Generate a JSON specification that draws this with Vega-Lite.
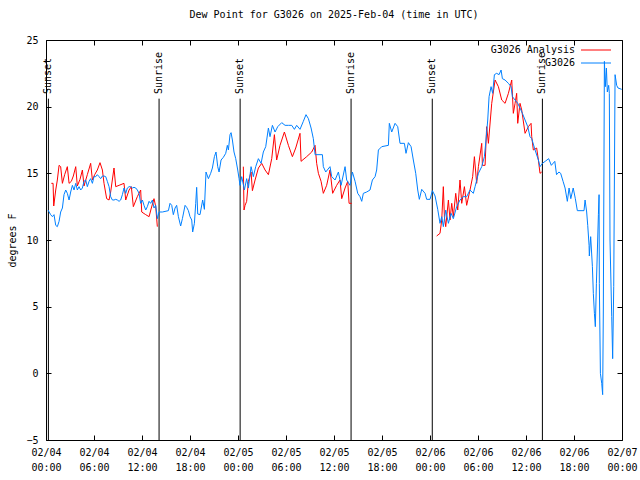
{
  "$schema": "https://vega.github.io/schema/vega-lite/v6.json",
  "width": 576,
  "height": 400,
  "autosize": {"type": "none"},
  "padding": {"left": 46, "top": 40, "right": 18, "bottom": 40},
  "background": "white",
  "title": {"text": "Dew Point for G3026 on 2025-Feb-04 (time in UTC)", "font": "DejaVu Sans Mono", "fontSize": 10, "fontWeight": "normal", "color": "black", "offset": 15},
  "config": {
    "view": {"stroke": "black", "strokeWidth": 1},
    "font": "DejaVu Sans Mono",
    "axis": {"labelFont": "DejaVu Sans Mono", "labelFontSize": 10, "labelColor": "black", "titleFont": "DejaVu Sans Mono", "titleFontSize": 10, "titleFontWeight": "normal", "titleColor": "black", "tickColor": "black", "domain": false, "grid": false}
  },
  "datasets": {
    "sun": [
      {"time": "2025-02-04T00:18Z", "event": "Sunset"},
      {"time": "2025-02-04T14:08Z", "event": "Sunrise"},
      {"time": "2025-02-05T00:16Z", "event": "Sunset"},
      {"time": "2025-02-05T14:08Z", "event": "Sunrise"},
      {"time": "2025-02-06T00:17Z", "event": "Sunset"},
      {"time": "2025-02-06T14:03Z", "event": "Sunrise"}
    ],
    "obs": [
      {"time": "2025-02-04T00:40Z", "series": "G3026 Analysis", "dewpoint": 14.25},
      {"time": "2025-02-04T00:53Z", "series": "G3026 Analysis", "dewpoint": 14.25},
      {"time": "2025-02-04T00:58Z", "series": "G3026 Analysis", "dewpoint": 12.55},
      {"time": "2025-02-04T01:13Z", "series": "G3026 Analysis", "dewpoint": 13.75},
      {"time": "2025-02-04T01:25Z", "series": "G3026 Analysis", "dewpoint": 14.5},
      {"time": "2025-02-04T01:38Z", "series": "G3026 Analysis", "dewpoint": 15.6},
      {"time": "2025-02-04T01:50Z", "series": "G3026 Analysis", "dewpoint": 15.5},
      {"time": "2025-02-04T02:03Z", "series": "G3026 Analysis", "dewpoint": 14.25},
      {"time": "2025-02-04T02:20Z", "series": "G3026 Analysis", "dewpoint": 14.9},
      {"time": "2025-02-04T02:40Z", "series": "G3026 Analysis", "dewpoint": 15.5},
      {"time": "2025-02-04T02:53Z", "series": "G3026 Analysis", "dewpoint": 14.25},
      {"time": "2025-02-04T03:10Z", "series": "G3026 Analysis", "dewpoint": 14.4},
      {"time": "2025-02-04T03:25Z", "series": "G3026 Analysis", "dewpoint": 14.8},
      {"time": "2025-02-04T03:43Z", "series": "G3026 Analysis", "dewpoint": 15.5},
      {"time": "2025-02-04T03:55Z", "series": "G3026 Analysis", "dewpoint": 14.05},
      {"time": "2025-02-04T04:15Z", "series": "G3026 Analysis", "dewpoint": 14.55},
      {"time": "2025-02-04T04:33Z", "series": "G3026 Analysis", "dewpoint": 15.25},
      {"time": "2025-02-04T04:45Z", "series": "G3026 Analysis", "dewpoint": 14.05},
      {"time": "2025-02-04T05:10Z", "series": "G3026 Analysis", "dewpoint": 14.9},
      {"time": "2025-02-04T05:35Z", "series": "G3026 Analysis", "dewpoint": 15.75},
      {"time": "2025-02-04T05:48Z", "series": "G3026 Analysis", "dewpoint": 14.5},
      {"time": "2025-02-04T06:05Z", "series": "G3026 Analysis", "dewpoint": 14.9},
      {"time": "2025-02-04T06:25Z", "series": "G3026 Analysis", "dewpoint": 15.25},
      {"time": "2025-02-04T06:45Z", "series": "G3026 Analysis", "dewpoint": 15.8},
      {"time": "2025-02-04T07:03Z", "series": "G3026 Analysis", "dewpoint": 15.25},
      {"time": "2025-02-04T07:15Z", "series": "G3026 Analysis", "dewpoint": 14.25},
      {"time": "2025-02-04T07:35Z", "series": "G3026 Analysis", "dewpoint": 13.1},
      {"time": "2025-02-04T07:53Z", "series": "G3026 Analysis", "dewpoint": 13.0},
      {"time": "2025-02-04T08:05Z", "series": "G3026 Analysis", "dewpoint": 13.6},
      {"time": "2025-02-04T08:30Z", "series": "G3026 Analysis", "dewpoint": 15.4},
      {"time": "2025-02-04T08:43Z", "series": "G3026 Analysis", "dewpoint": 14.0},
      {"time": "2025-02-04T09:08Z", "series": "G3026 Analysis", "dewpoint": 14.1},
      {"time": "2025-02-04T09:45Z", "series": "G3026 Analysis", "dewpoint": 14.25},
      {"time": "2025-02-04T09:58Z", "series": "G3026 Analysis", "dewpoint": 13.0},
      {"time": "2025-02-04T10:23Z", "series": "G3026 Analysis", "dewpoint": 13.75},
      {"time": "2025-02-04T10:40Z", "series": "G3026 Analysis", "dewpoint": 14.0},
      {"time": "2025-02-04T10:55Z", "series": "G3026 Analysis", "dewpoint": 12.5},
      {"time": "2025-02-04T11:25Z", "series": "G3026 Analysis", "dewpoint": 13.25},
      {"time": "2025-02-04T11:50Z", "series": "G3026 Analysis", "dewpoint": 13.75},
      {"time": "2025-02-04T11:58Z", "series": "G3026 Analysis", "dewpoint": 12.1},
      {"time": "2025-02-04T12:28Z", "series": "G3026 Analysis", "dewpoint": 11.9},
      {"time": "2025-02-04T12:53Z", "series": "G3026 Analysis", "dewpoint": 11.75},
      {"time": "2025-02-04T13:10Z", "series": "G3026 Analysis", "dewpoint": 12.4},
      {"time": "2025-02-04T13:30Z", "series": "G3026 Analysis", "dewpoint": 13.1},
      {"time": "2025-02-04T13:43Z", "series": "G3026 Analysis", "dewpoint": 12.5},
      {"time": "2025-02-04T13:55Z", "series": "G3026 Analysis", "dewpoint": 11.0},
      {"time": "2025-02-04T19:00Z", "series": "G3026 Analysis", "dewpoint": null},
      {"time": "2025-02-05T00:40Z", "series": "G3026 Analysis", "dewpoint": 15.5},
      {"time": "2025-02-05T00:45Z", "series": "G3026 Analysis", "dewpoint": 12.25},
      {"time": "2025-02-05T00:53Z", "series": "G3026 Analysis", "dewpoint": 12.6},
      {"time": "2025-02-05T01:05Z", "series": "G3026 Analysis", "dewpoint": 12.9},
      {"time": "2025-02-05T01:18Z", "series": "G3026 Analysis", "dewpoint": 14.4},
      {"time": "2025-02-05T01:38Z", "series": "G3026 Analysis", "dewpoint": 15.1},
      {"time": "2025-02-05T01:48Z", "series": "G3026 Analysis", "dewpoint": 13.7},
      {"time": "2025-02-05T02:08Z", "series": "G3026 Analysis", "dewpoint": 14.5},
      {"time": "2025-02-05T02:33Z", "series": "G3026 Analysis", "dewpoint": 15.4},
      {"time": "2025-02-05T02:58Z", "series": "G3026 Analysis", "dewpoint": 15.75},
      {"time": "2025-02-05T03:23Z", "series": "G3026 Analysis", "dewpoint": 15.25},
      {"time": "2025-02-05T03:48Z", "series": "G3026 Analysis", "dewpoint": 14.9},
      {"time": "2025-02-05T04:13Z", "series": "G3026 Analysis", "dewpoint": 16.1},
      {"time": "2025-02-05T04:33Z", "series": "G3026 Analysis", "dewpoint": 17.9},
      {"time": "2025-02-05T04:50Z", "series": "G3026 Analysis", "dewpoint": 16.0},
      {"time": "2025-02-05T05:15Z", "series": "G3026 Analysis", "dewpoint": 17.1},
      {"time": "2025-02-05T05:48Z", "series": "G3026 Analysis", "dewpoint": 18.1},
      {"time": "2025-02-05T06:18Z", "series": "G3026 Analysis", "dewpoint": 17.1},
      {"time": "2025-02-05T06:48Z", "series": "G3026 Analysis", "dewpoint": 16.25},
      {"time": "2025-02-05T07:13Z", "series": "G3026 Analysis", "dewpoint": 16.9},
      {"time": "2025-02-05T07:45Z", "series": "G3026 Analysis", "dewpoint": 18.0},
      {"time": "2025-02-05T07:53Z", "series": "G3026 Analysis", "dewpoint": 15.9},
      {"time": "2025-02-05T08:35Z", "series": "G3026 Analysis", "dewpoint": 16.25},
      {"time": "2025-02-05T09:13Z", "series": "G3026 Analysis", "dewpoint": 16.6},
      {"time": "2025-02-05T09:38Z", "series": "G3026 Analysis", "dewpoint": 17.1},
      {"time": "2025-02-05T09:50Z", "series": "G3026 Analysis", "dewpoint": 15.75},
      {"time": "2025-02-05T10:03Z", "series": "G3026 Analysis", "dewpoint": 15.0},
      {"time": "2025-02-05T10:23Z", "series": "G3026 Analysis", "dewpoint": 14.4},
      {"time": "2025-02-05T10:40Z", "series": "G3026 Analysis", "dewpoint": 13.5},
      {"time": "2025-02-05T11:05Z", "series": "G3026 Analysis", "dewpoint": 14.1},
      {"time": "2025-02-05T11:30Z", "series": "G3026 Analysis", "dewpoint": 15.25},
      {"time": "2025-02-05T11:50Z", "series": "G3026 Analysis", "dewpoint": 13.5},
      {"time": "2025-02-05T12:20Z", "series": "G3026 Analysis", "dewpoint": 14.1},
      {"time": "2025-02-05T12:45Z", "series": "G3026 Analysis", "dewpoint": 14.5},
      {"time": "2025-02-05T12:58Z", "series": "G3026 Analysis", "dewpoint": 13.1},
      {"time": "2025-02-05T13:23Z", "series": "G3026 Analysis", "dewpoint": 13.9},
      {"time": "2025-02-05T13:43Z", "series": "G3026 Analysis", "dewpoint": 14.4},
      {"time": "2025-02-05T13:53Z", "series": "G3026 Analysis", "dewpoint": 12.75},
      {"time": "2025-02-05T14:13Z", "series": "G3026 Analysis", "dewpoint": 12.75},
      {"time": "2025-02-05T19:00Z", "series": "G3026 Analysis", "dewpoint": null},
      {"time": "2025-02-06T00:50Z", "series": "G3026 Analysis", "dewpoint": 10.3},
      {"time": "2025-02-06T01:15Z", "series": "G3026 Analysis", "dewpoint": 10.5},
      {"time": "2025-02-06T01:28Z", "series": "G3026 Analysis", "dewpoint": 11.5},
      {"time": "2025-02-06T01:40Z", "series": "G3026 Analysis", "dewpoint": 14.0},
      {"time": "2025-02-06T01:48Z", "series": "G3026 Analysis", "dewpoint": 11.75},
      {"time": "2025-02-06T01:58Z", "series": "G3026 Analysis", "dewpoint": 11.0},
      {"time": "2025-02-06T02:18Z", "series": "G3026 Analysis", "dewpoint": 13.0},
      {"time": "2025-02-06T02:30Z", "series": "G3026 Analysis", "dewpoint": 11.5},
      {"time": "2025-02-06T02:43Z", "series": "G3026 Analysis", "dewpoint": 12.75},
      {"time": "2025-02-06T02:55Z", "series": "G3026 Analysis", "dewpoint": 11.75},
      {"time": "2025-02-06T03:13Z", "series": "G3026 Analysis", "dewpoint": 13.5},
      {"time": "2025-02-06T03:28Z", "series": "G3026 Analysis", "dewpoint": 12.25},
      {"time": "2025-02-06T03:45Z", "series": "G3026 Analysis", "dewpoint": 14.5},
      {"time": "2025-02-06T03:58Z", "series": "G3026 Analysis", "dewpoint": 12.75},
      {"time": "2025-02-06T04:18Z", "series": "G3026 Analysis", "dewpoint": 14.0},
      {"time": "2025-02-06T04:35Z", "series": "G3026 Analysis", "dewpoint": 12.6},
      {"time": "2025-02-06T05:00Z", "series": "G3026 Analysis", "dewpoint": 13.75},
      {"time": "2025-02-06T05:20Z", "series": "G3026 Analysis", "dewpoint": 14.75},
      {"time": "2025-02-06T05:33Z", "series": "G3026 Analysis", "dewpoint": 16.25},
      {"time": "2025-02-06T05:50Z", "series": "G3026 Analysis", "dewpoint": 14.25},
      {"time": "2025-02-06T06:03Z", "series": "G3026 Analysis", "dewpoint": 15.5},
      {"time": "2025-02-06T06:28Z", "series": "G3026 Analysis", "dewpoint": 17.25},
      {"time": "2025-02-06T06:33Z", "series": "G3026 Analysis", "dewpoint": 15.6},
      {"time": "2025-02-06T06:53Z", "series": "G3026 Analysis", "dewpoint": 15.6},
      {"time": "2025-02-06T07:05Z", "series": "G3026 Analysis", "dewpoint": 18.5},
      {"time": "2025-02-06T07:18Z", "series": "G3026 Analysis", "dewpoint": 17.25},
      {"time": "2025-02-06T07:43Z", "series": "G3026 Analysis", "dewpoint": 20.25},
      {"time": "2025-02-06T08:08Z", "series": "G3026 Analysis", "dewpoint": 22.0},
      {"time": "2025-02-06T08:33Z", "series": "G3026 Analysis", "dewpoint": 21.5},
      {"time": "2025-02-06T08:58Z", "series": "G3026 Analysis", "dewpoint": 20.5},
      {"time": "2025-02-06T09:23Z", "series": "G3026 Analysis", "dewpoint": 20.25},
      {"time": "2025-02-06T09:48Z", "series": "G3026 Analysis", "dewpoint": 21.0},
      {"time": "2025-02-06T10:13Z", "series": "G3026 Analysis", "dewpoint": 22.0},
      {"time": "2025-02-06T10:25Z", "series": "G3026 Analysis", "dewpoint": 19.5},
      {"time": "2025-02-06T10:38Z", "series": "G3026 Analysis", "dewpoint": 20.25},
      {"time": "2025-02-06T10:50Z", "series": "G3026 Analysis", "dewpoint": 21.0},
      {"time": "2025-02-06T10:58Z", "series": "G3026 Analysis", "dewpoint": 18.75},
      {"time": "2025-02-06T11:15Z", "series": "G3026 Analysis", "dewpoint": 20.25},
      {"time": "2025-02-06T11:28Z", "series": "G3026 Analysis", "dewpoint": 19.75},
      {"time": "2025-02-06T11:53Z", "series": "G3026 Analysis", "dewpoint": 18.0},
      {"time": "2025-02-06T12:18Z", "series": "G3026 Analysis", "dewpoint": 18.5},
      {"time": "2025-02-06T12:38Z", "series": "G3026 Analysis", "dewpoint": 18.75},
      {"time": "2025-02-06T12:43Z", "series": "G3026 Analysis", "dewpoint": 17.75},
      {"time": "2025-02-06T12:55Z", "series": "G3026 Analysis", "dewpoint": 16.75},
      {"time": "2025-02-06T13:20Z", "series": "G3026 Analysis", "dewpoint": 16.9},
      {"time": "2025-02-06T13:33Z", "series": "G3026 Analysis", "dewpoint": 16.0},
      {"time": "2025-02-06T13:45Z", "series": "G3026 Analysis", "dewpoint": 15.0},
      {"time": "2025-02-06T13:58Z", "series": "G3026 Analysis", "dewpoint": 15.1},

      {"time": "2025-02-04T00:15Z", "series": "G3026", "dewpoint": 12.25},
      {"time": "2025-02-04T00:35Z", "series": "G3026", "dewpoint": 11.9},
      {"time": "2025-02-04T00:48Z", "series": "G3026", "dewpoint": 11.75},
      {"time": "2025-02-04T01:00Z", "series": "G3026", "dewpoint": 11.9},
      {"time": "2025-02-04T01:13Z", "series": "G3026", "dewpoint": 11.1},
      {"time": "2025-02-04T01:25Z", "series": "G3026", "dewpoint": 11.0},
      {"time": "2025-02-04T01:38Z", "series": "G3026", "dewpoint": 11.4},
      {"time": "2025-02-04T01:50Z", "series": "G3026", "dewpoint": 12.1},
      {"time": "2025-02-04T02:03Z", "series": "G3026", "dewpoint": 12.4},
      {"time": "2025-02-04T02:15Z", "series": "G3026", "dewpoint": 13.4},
      {"time": "2025-02-04T02:28Z", "series": "G3026", "dewpoint": 13.75},
      {"time": "2025-02-04T02:40Z", "series": "G3026", "dewpoint": 13.5},
      {"time": "2025-02-04T02:53Z", "series": "G3026", "dewpoint": 13.0},
      {"time": "2025-02-04T03:05Z", "series": "G3026", "dewpoint": 13.6},
      {"time": "2025-02-04T03:18Z", "series": "G3026", "dewpoint": 14.1},
      {"time": "2025-02-04T03:30Z", "series": "G3026", "dewpoint": 13.75},
      {"time": "2025-02-04T03:43Z", "series": "G3026", "dewpoint": 14.25},
      {"time": "2025-02-04T03:55Z", "series": "G3026", "dewpoint": 13.75},
      {"time": "2025-02-04T04:08Z", "series": "G3026", "dewpoint": 14.0},
      {"time": "2025-02-04T04:20Z", "series": "G3026", "dewpoint": 13.75},
      {"time": "2025-02-04T04:33Z", "series": "G3026", "dewpoint": 13.9},
      {"time": "2025-02-04T04:45Z", "series": "G3026", "dewpoint": 14.4},
      {"time": "2025-02-04T04:58Z", "series": "G3026", "dewpoint": 14.5},
      {"time": "2025-02-04T05:10Z", "series": "G3026", "dewpoint": 14.0},
      {"time": "2025-02-04T05:23Z", "series": "G3026", "dewpoint": 14.4},
      {"time": "2025-02-04T05:35Z", "series": "G3026", "dewpoint": 14.6},
      {"time": "2025-02-04T05:48Z", "series": "G3026", "dewpoint": 14.25},
      {"time": "2025-02-04T06:00Z", "series": "G3026", "dewpoint": 14.75},
      {"time": "2025-02-04T06:13Z", "series": "G3026", "dewpoint": 14.75},
      {"time": "2025-02-04T06:25Z", "series": "G3026", "dewpoint": 14.9},
      {"time": "2025-02-04T06:38Z", "series": "G3026", "dewpoint": 14.75},
      {"time": "2025-02-04T06:50Z", "series": "G3026", "dewpoint": 14.6},
      {"time": "2025-02-04T07:03Z", "series": "G3026", "dewpoint": 14.8},
      {"time": "2025-02-04T07:15Z", "series": "G3026", "dewpoint": 14.8},
      {"time": "2025-02-04T07:28Z", "series": "G3026", "dewpoint": 14.75},
      {"time": "2025-02-04T07:40Z", "series": "G3026", "dewpoint": 14.4},
      {"time": "2025-02-04T07:53Z", "series": "G3026", "dewpoint": 14.0},
      {"time": "2025-02-04T08:05Z", "series": "G3026", "dewpoint": 13.25},
      {"time": "2025-02-04T08:18Z", "series": "G3026", "dewpoint": 13.0},
      {"time": "2025-02-04T08:30Z", "series": "G3026", "dewpoint": 13.0},
      {"time": "2025-02-04T08:43Z", "series": "G3026", "dewpoint": 13.05},
      {"time": "2025-02-04T08:55Z", "series": "G3026", "dewpoint": 13.0},
      {"time": "2025-02-04T09:08Z", "series": "G3026", "dewpoint": 12.9},
      {"time": "2025-02-04T09:20Z", "series": "G3026", "dewpoint": 13.0},
      {"time": "2025-02-04T09:33Z", "series": "G3026", "dewpoint": 13.4},
      {"time": "2025-02-04T09:45Z", "series": "G3026", "dewpoint": 13.9},
      {"time": "2025-02-04T09:58Z", "series": "G3026", "dewpoint": 13.5},
      {"time": "2025-02-04T10:10Z", "series": "G3026", "dewpoint": 13.9},
      {"time": "2025-02-04T10:23Z", "series": "G3026", "dewpoint": 14.0},
      {"time": "2025-02-04T10:35Z", "series": "G3026", "dewpoint": 14.0},
      {"time": "2025-02-04T10:48Z", "series": "G3026", "dewpoint": 13.9},
      {"time": "2025-02-04T11:00Z", "series": "G3026", "dewpoint": 13.95},
      {"time": "2025-02-04T11:13Z", "series": "G3026", "dewpoint": 13.9},
      {"time": "2025-02-04T11:25Z", "series": "G3026", "dewpoint": 13.75},
      {"time": "2025-02-04T11:38Z", "series": "G3026", "dewpoint": 13.5},
      {"time": "2025-02-04T11:50Z", "series": "G3026", "dewpoint": 12.75},
      {"time": "2025-02-04T12:03Z", "series": "G3026", "dewpoint": 13.0},
      {"time": "2025-02-04T12:15Z", "series": "G3026", "dewpoint": 12.6},
      {"time": "2025-02-04T12:28Z", "series": "G3026", "dewpoint": 12.25},
      {"time": "2025-02-04T12:40Z", "series": "G3026", "dewpoint": 12.5},
      {"time": "2025-02-04T12:53Z", "series": "G3026", "dewpoint": 12.9},
      {"time": "2025-02-04T13:05Z", "series": "G3026", "dewpoint": 12.75},
      {"time": "2025-02-04T13:18Z", "series": "G3026", "dewpoint": 13.0},
      {"time": "2025-02-04T13:30Z", "series": "G3026", "dewpoint": 12.4},
      {"time": "2025-02-04T13:43Z", "series": "G3026", "dewpoint": 12.6},
      {"time": "2025-02-04T13:55Z", "series": "G3026", "dewpoint": 11.6},
      {"time": "2025-02-04T14:08Z", "series": "G3026", "dewpoint": 12.1},
      {"time": "2025-02-04T14:33Z", "series": "G3026", "dewpoint": 12.1},
      {"time": "2025-02-04T15:18Z", "series": "G3026", "dewpoint": 12.2},
      {"time": "2025-02-04T15:30Z", "series": "G3026", "dewpoint": 12.75},
      {"time": "2025-02-04T15:43Z", "series": "G3026", "dewpoint": 12.6},
      {"time": "2025-02-04T15:55Z", "series": "G3026", "dewpoint": 11.9},
      {"time": "2025-02-04T16:08Z", "series": "G3026", "dewpoint": 12.4},
      {"time": "2025-02-04T16:20Z", "series": "G3026", "dewpoint": 12.6},
      {"time": "2025-02-04T16:33Z", "series": "G3026", "dewpoint": 11.75},
      {"time": "2025-02-04T16:50Z", "series": "G3026", "dewpoint": 11.05},
      {"time": "2025-02-04T17:03Z", "series": "G3026", "dewpoint": 11.6},
      {"time": "2025-02-04T17:23Z", "series": "G3026", "dewpoint": 12.6},
      {"time": "2025-02-04T17:35Z", "series": "G3026", "dewpoint": 12.45},
      {"time": "2025-02-04T17:48Z", "series": "G3026", "dewpoint": 12.2},
      {"time": "2025-02-04T18:00Z", "series": "G3026", "dewpoint": 11.75},
      {"time": "2025-02-04T18:13Z", "series": "G3026", "dewpoint": 11.5},
      {"time": "2025-02-04T18:20Z", "series": "G3026", "dewpoint": 10.6},
      {"time": "2025-02-04T18:33Z", "series": "G3026", "dewpoint": 11.25},
      {"time": "2025-02-04T18:43Z", "series": "G3026", "dewpoint": 12.75},
      {"time": "2025-02-04T18:50Z", "series": "G3026", "dewpoint": 13.95},
      {"time": "2025-02-04T18:58Z", "series": "G3026", "dewpoint": 11.95},
      {"time": "2025-02-04T19:15Z", "series": "G3026", "dewpoint": 11.9},
      {"time": "2025-02-04T19:35Z", "series": "G3026", "dewpoint": 13.0},
      {"time": "2025-02-04T19:48Z", "series": "G3026", "dewpoint": 12.3},
      {"time": "2025-02-04T20:00Z", "series": "G3026", "dewpoint": 15.1},
      {"time": "2025-02-04T20:18Z", "series": "G3026", "dewpoint": 14.6},
      {"time": "2025-02-04T20:35Z", "series": "G3026", "dewpoint": 15.0},
      {"time": "2025-02-04T20:48Z", "series": "G3026", "dewpoint": 15.4},
      {"time": "2025-02-04T21:03Z", "series": "G3026", "dewpoint": 16.25},
      {"time": "2025-02-04T21:15Z", "series": "G3026", "dewpoint": 16.6},
      {"time": "2025-02-04T21:28Z", "series": "G3026", "dewpoint": 15.5},
      {"time": "2025-02-04T21:38Z", "series": "G3026", "dewpoint": 15.1},
      {"time": "2025-02-04T21:53Z", "series": "G3026", "dewpoint": 16.0},
      {"time": "2025-02-04T22:10Z", "series": "G3026", "dewpoint": 16.2},
      {"time": "2025-02-04T22:28Z", "series": "G3026", "dewpoint": 16.5},
      {"time": "2025-02-04T22:40Z", "series": "G3026", "dewpoint": 17.1},
      {"time": "2025-02-04T22:48Z", "series": "G3026", "dewpoint": 16.75},
      {"time": "2025-02-04T23:00Z", "series": "G3026", "dewpoint": 17.9},
      {"time": "2025-02-04T23:08Z", "series": "G3026", "dewpoint": 18.05},
      {"time": "2025-02-04T23:18Z", "series": "G3026", "dewpoint": 17.5},
      {"time": "2025-02-04T23:30Z", "series": "G3026", "dewpoint": 16.6},
      {"time": "2025-02-04T23:43Z", "series": "G3026", "dewpoint": 16.1},
      {"time": "2025-02-04T23:58Z", "series": "G3026", "dewpoint": 15.25},
      {"time": "2025-02-05T00:08Z", "series": "G3026", "dewpoint": 14.6},
      {"time": "2025-02-05T00:15Z", "series": "G3026", "dewpoint": 14.1},
      {"time": "2025-02-05T00:28Z", "series": "G3026", "dewpoint": 14.75},
      {"time": "2025-02-05T00:48Z", "series": "G3026", "dewpoint": 13.75},
      {"time": "2025-02-05T01:05Z", "series": "G3026", "dewpoint": 14.6},
      {"time": "2025-02-05T01:18Z", "series": "G3026", "dewpoint": 13.9},
      {"time": "2025-02-05T01:38Z", "series": "G3026", "dewpoint": 15.5},
      {"time": "2025-02-05T01:55Z", "series": "G3026", "dewpoint": 14.75},
      {"time": "2025-02-05T02:13Z", "series": "G3026", "dewpoint": 15.5},
      {"time": "2025-02-05T02:33Z", "series": "G3026", "dewpoint": 16.1},
      {"time": "2025-02-05T02:53Z", "series": "G3026", "dewpoint": 15.75},
      {"time": "2025-02-05T03:10Z", "series": "G3026", "dewpoint": 16.6},
      {"time": "2025-02-05T03:28Z", "series": "G3026", "dewpoint": 17.0},
      {"time": "2025-02-05T03:48Z", "series": "G3026", "dewpoint": 18.4},
      {"time": "2025-02-05T04:00Z", "series": "G3026", "dewpoint": 17.75},
      {"time": "2025-02-05T04:18Z", "series": "G3026", "dewpoint": 18.6},
      {"time": "2025-02-05T04:38Z", "series": "G3026", "dewpoint": 18.1},
      {"time": "2025-02-05T04:58Z", "series": "G3026", "dewpoint": 18.5},
      {"time": "2025-02-05T05:28Z", "series": "G3026", "dewpoint": 18.8},
      {"time": "2025-02-05T05:53Z", "series": "G3026", "dewpoint": 18.6},
      {"time": "2025-02-05T06:18Z", "series": "G3026", "dewpoint": 18.6},
      {"time": "2025-02-05T06:43Z", "series": "G3026", "dewpoint": 18.6},
      {"time": "2025-02-05T07:03Z", "series": "G3026", "dewpoint": 18.3},
      {"time": "2025-02-05T07:20Z", "series": "G3026", "dewpoint": 18.6},
      {"time": "2025-02-05T07:45Z", "series": "G3026", "dewpoint": 18.3},
      {"time": "2025-02-05T08:10Z", "series": "G3026", "dewpoint": 18.9},
      {"time": "2025-02-05T08:30Z", "series": "G3026", "dewpoint": 19.4},
      {"time": "2025-02-05T08:48Z", "series": "G3026", "dewpoint": 19.1},
      {"time": "2025-02-05T09:08Z", "series": "G3026", "dewpoint": 18.4},
      {"time": "2025-02-05T09:25Z", "series": "G3026", "dewpoint": 17.6},
      {"time": "2025-02-05T09:38Z", "series": "G3026", "dewpoint": 16.4},
      {"time": "2025-02-05T10:33Z", "series": "G3026", "dewpoint": 16.4},
      {"time": "2025-02-05T10:40Z", "series": "G3026", "dewpoint": 15.5},
      {"time": "2025-02-05T10:58Z", "series": "G3026", "dewpoint": 15.1},
      {"time": "2025-02-05T11:30Z", "series": "G3026", "dewpoint": 15.5},
      {"time": "2025-02-05T11:43Z", "series": "G3026", "dewpoint": 14.75},
      {"time": "2025-02-05T12:08Z", "series": "G3026", "dewpoint": 14.5},
      {"time": "2025-02-05T12:33Z", "series": "G3026", "dewpoint": 15.1},
      {"time": "2025-02-05T12:53Z", "series": "G3026", "dewpoint": 14.1},
      {"time": "2025-02-05T13:23Z", "series": "G3026", "dewpoint": 15.5},
      {"time": "2025-02-05T13:35Z", "series": "G3026", "dewpoint": 14.5},
      {"time": "2025-02-05T14:00Z", "series": "G3026", "dewpoint": 14.1},
      {"time": "2025-02-05T14:18Z", "series": "G3026", "dewpoint": 15.1},
      {"time": "2025-02-05T14:38Z", "series": "G3026", "dewpoint": 14.4},
      {"time": "2025-02-05T14:58Z", "series": "G3026", "dewpoint": 13.5},
      {"time": "2025-02-05T15:15Z", "series": "G3026", "dewpoint": 13.25},
      {"time": "2025-02-05T15:28Z", "series": "G3026", "dewpoint": 12.9},
      {"time": "2025-02-05T15:40Z", "series": "G3026", "dewpoint": 13.5},
      {"time": "2025-02-05T16:05Z", "series": "G3026", "dewpoint": 13.6},
      {"time": "2025-02-05T16:30Z", "series": "G3026", "dewpoint": 13.75},
      {"time": "2025-02-05T16:48Z", "series": "G3026", "dewpoint": 14.5},
      {"time": "2025-02-05T17:08Z", "series": "G3026", "dewpoint": 14.75},
      {"time": "2025-02-05T17:20Z", "series": "G3026", "dewpoint": 15.25},
      {"time": "2025-02-05T17:33Z", "series": "G3026", "dewpoint": 16.75},
      {"time": "2025-02-05T17:58Z", "series": "G3026", "dewpoint": 17.0},
      {"time": "2025-02-05T18:48Z", "series": "G3026", "dewpoint": 17.1},
      {"time": "2025-02-05T18:55Z", "series": "G3026", "dewpoint": 18.75},
      {"time": "2025-02-05T19:13Z", "series": "G3026", "dewpoint": 18.1},
      {"time": "2025-02-05T19:38Z", "series": "G3026", "dewpoint": 18.75},
      {"time": "2025-02-05T19:58Z", "series": "G3026", "dewpoint": 18.5},
      {"time": "2025-02-05T20:15Z", "series": "G3026", "dewpoint": 17.25},
      {"time": "2025-02-05T20:48Z", "series": "G3026", "dewpoint": 17.25},
      {"time": "2025-02-05T21:00Z", "series": "G3026", "dewpoint": 16.5},
      {"time": "2025-02-05T21:18Z", "series": "G3026", "dewpoint": 17.3},
      {"time": "2025-02-05T21:38Z", "series": "G3026", "dewpoint": 17.0},
      {"time": "2025-02-05T21:55Z", "series": "G3026", "dewpoint": 16.0},
      {"time": "2025-02-05T22:13Z", "series": "G3026", "dewpoint": 15.0},
      {"time": "2025-02-05T22:28Z", "series": "G3026", "dewpoint": 13.75},
      {"time": "2025-02-05T22:40Z", "series": "G3026", "dewpoint": 13.05},
      {"time": "2025-02-05T22:58Z", "series": "G3026", "dewpoint": 13.8},
      {"time": "2025-02-05T23:23Z", "series": "G3026", "dewpoint": 13.5},
      {"time": "2025-02-05T23:35Z", "series": "G3026", "dewpoint": 13.05},
      {"time": "2025-02-06T00:00Z", "series": "G3026", "dewpoint": 13.05},
      {"time": "2025-02-06T00:18Z", "series": "G3026", "dewpoint": 13.7},
      {"time": "2025-02-06T00:38Z", "series": "G3026", "dewpoint": 13.3},
      {"time": "2025-02-06T00:58Z", "series": "G3026", "dewpoint": 12.3},
      {"time": "2025-02-06T01:15Z", "series": "G3026", "dewpoint": 11.25},
      {"time": "2025-02-06T01:28Z", "series": "G3026", "dewpoint": 11.75},
      {"time": "2025-02-06T01:40Z", "series": "G3026", "dewpoint": 11.0},
      {"time": "2025-02-06T01:58Z", "series": "G3026", "dewpoint": 12.25},
      {"time": "2025-02-06T02:18Z", "series": "G3026", "dewpoint": 11.25},
      {"time": "2025-02-06T02:38Z", "series": "G3026", "dewpoint": 12.0},
      {"time": "2025-02-06T02:55Z", "series": "G3026", "dewpoint": 11.6},
      {"time": "2025-02-06T03:20Z", "series": "G3026", "dewpoint": 12.5},
      {"time": "2025-02-06T03:45Z", "series": "G3026", "dewpoint": 13.0},
      {"time": "2025-02-06T04:10Z", "series": "G3026", "dewpoint": 13.25},
      {"time": "2025-02-06T04:35Z", "series": "G3026", "dewpoint": 13.25},
      {"time": "2025-02-06T05:00Z", "series": "G3026", "dewpoint": 13.75},
      {"time": "2025-02-06T05:25Z", "series": "G3026", "dewpoint": 13.5},
      {"time": "2025-02-06T05:38Z", "series": "G3026", "dewpoint": 14.0},
      {"time": "2025-02-06T06:03Z", "series": "G3026", "dewpoint": 15.0},
      {"time": "2025-02-06T06:28Z", "series": "G3026", "dewpoint": 15.5},
      {"time": "2025-02-06T06:48Z", "series": "G3026", "dewpoint": 16.25},
      {"time": "2025-02-06T07:00Z", "series": "G3026", "dewpoint": 17.5},
      {"time": "2025-02-06T07:13Z", "series": "G3026", "dewpoint": 19.0},
      {"time": "2025-02-06T07:23Z", "series": "G3026", "dewpoint": 20.75},
      {"time": "2025-02-06T07:38Z", "series": "G3026", "dewpoint": 21.5},
      {"time": "2025-02-06T07:50Z", "series": "G3026", "dewpoint": 21.0},
      {"time": "2025-02-06T08:03Z", "series": "G3026", "dewpoint": 22.4},
      {"time": "2025-02-06T08:20Z", "series": "G3026", "dewpoint": 22.5},
      {"time": "2025-02-06T08:38Z", "series": "G3026", "dewpoint": 22.4},
      {"time": "2025-02-06T08:53Z", "series": "G3026", "dewpoint": 22.75},
      {"time": "2025-02-06T09:03Z", "series": "G3026", "dewpoint": 22.1},
      {"time": "2025-02-06T09:23Z", "series": "G3026", "dewpoint": 22.0},
      {"time": "2025-02-06T09:48Z", "series": "G3026", "dewpoint": 21.75},
      {"time": "2025-02-06T10:08Z", "series": "G3026", "dewpoint": 21.5},
      {"time": "2025-02-06T10:18Z", "series": "G3026", "dewpoint": 20.75},
      {"time": "2025-02-06T10:38Z", "series": "G3026", "dewpoint": 20.5},
      {"time": "2025-02-06T10:58Z", "series": "G3026", "dewpoint": 20.25},
      {"time": "2025-02-06T11:15Z", "series": "G3026", "dewpoint": 19.9},
      {"time": "2025-02-06T11:33Z", "series": "G3026", "dewpoint": 19.5},
      {"time": "2025-02-06T11:53Z", "series": "G3026", "dewpoint": 19.0},
      {"time": "2025-02-06T12:13Z", "series": "G3026", "dewpoint": 18.5},
      {"time": "2025-02-06T12:30Z", "series": "G3026", "dewpoint": 17.75},
      {"time": "2025-02-06T12:43Z", "series": "G3026", "dewpoint": 17.6},
      {"time": "2025-02-06T13:08Z", "series": "G3026", "dewpoint": 16.75},
      {"time": "2025-02-06T13:33Z", "series": "G3026", "dewpoint": 16.0},
      {"time": "2025-02-06T13:45Z", "series": "G3026", "dewpoint": 15.5},
      {"time": "2025-02-06T14:03Z", "series": "G3026", "dewpoint": 15.75},
      {"time": "2025-02-06T14:24Z", "series": "G3026", "dewpoint": 15.9},
      {"time": "2025-02-06T14:50Z", "series": "G3026", "dewpoint": 16.1},
      {"time": "2025-02-06T15:10Z", "series": "G3026", "dewpoint": 15.6},
      {"time": "2025-02-06T15:36Z", "series": "G3026", "dewpoint": 15.9},
      {"time": "2025-02-06T15:49Z", "series": "G3026", "dewpoint": 14.9},
      {"time": "2025-02-06T16:07Z", "series": "G3026", "dewpoint": 15.1},
      {"time": "2025-02-06T16:20Z", "series": "G3026", "dewpoint": 15.0},
      {"time": "2025-02-06T16:38Z", "series": "G3026", "dewpoint": 14.4},
      {"time": "2025-02-06T16:53Z", "series": "G3026", "dewpoint": 13.9},
      {"time": "2025-02-06T17:10Z", "series": "G3026", "dewpoint": 12.9},
      {"time": "2025-02-06T17:23Z", "series": "G3026", "dewpoint": 13.9},
      {"time": "2025-02-06T17:36Z", "series": "G3026", "dewpoint": 13.1},
      {"time": "2025-02-06T17:54Z", "series": "G3026", "dewpoint": 13.9},
      {"time": "2025-02-06T18:10Z", "series": "G3026", "dewpoint": 13.1},
      {"time": "2025-02-06T18:25Z", "series": "G3026", "dewpoint": 12.2},
      {"time": "2025-02-06T19:15Z", "series": "G3026", "dewpoint": 12.2},
      {"time": "2025-02-06T19:23Z", "series": "G3026", "dewpoint": 13.0},
      {"time": "2025-02-06T19:35Z", "series": "G3026", "dewpoint": 12.1},
      {"time": "2025-02-06T19:43Z", "series": "G3026", "dewpoint": 11.1},
      {"time": "2025-02-06T19:53Z", "series": "G3026", "dewpoint": 9.6},
      {"time": "2025-02-06T19:55Z", "series": "G3026", "dewpoint": 8.8},
      {"time": "2025-02-06T20:05Z", "series": "G3026", "dewpoint": 10.25},
      {"time": "2025-02-06T20:10Z", "series": "G3026", "dewpoint": 9.4},
      {"time": "2025-02-06T20:18Z", "series": "G3026", "dewpoint": 8.0},
      {"time": "2025-02-06T20:25Z", "series": "G3026", "dewpoint": 6.0},
      {"time": "2025-02-06T20:33Z", "series": "G3026", "dewpoint": 4.5},
      {"time": "2025-02-06T20:40Z", "series": "G3026", "dewpoint": 3.5},
      {"time": "2025-02-06T20:48Z", "series": "G3026", "dewpoint": 6.75},
      {"time": "2025-02-06T20:55Z", "series": "G3026", "dewpoint": 9.1},
      {"time": "2025-02-06T21:03Z", "series": "G3026", "dewpoint": 11.9},
      {"time": "2025-02-06T21:08Z", "series": "G3026", "dewpoint": 13.4},
      {"time": "2025-02-06T21:10Z", "series": "G3026", "dewpoint": 6.75},
      {"time": "2025-02-06T21:18Z", "series": "G3026", "dewpoint": 0.0},
      {"time": "2025-02-06T21:28Z", "series": "G3026", "dewpoint": -0.75},
      {"time": "2025-02-06T21:35Z", "series": "G3026", "dewpoint": -1.6},
      {"time": "2025-02-06T21:40Z", "series": "G3026", "dewpoint": 4.75},
      {"time": "2025-02-06T21:48Z", "series": "G3026", "dewpoint": 23.4},
      {"time": "2025-02-06T21:55Z", "series": "G3026", "dewpoint": 21.5},
      {"time": "2025-02-06T22:03Z", "series": "G3026", "dewpoint": 22.9},
      {"time": "2025-02-06T22:10Z", "series": "G3026", "dewpoint": 21.1},
      {"time": "2025-02-06T22:20Z", "series": "G3026", "dewpoint": 21.6},
      {"time": "2025-02-06T22:25Z", "series": "G3026", "dewpoint": 21.0},
      {"time": "2025-02-06T22:30Z", "series": "G3026", "dewpoint": 10.0},
      {"time": "2025-02-06T22:43Z", "series": "G3026", "dewpoint": 4.25},
      {"time": "2025-02-06T22:50Z", "series": "G3026", "dewpoint": 1.1},
      {"time": "2025-02-06T22:58Z", "series": "G3026", "dewpoint": 6.5},
      {"time": "2025-02-06T23:08Z", "series": "G3026", "dewpoint": 22.4},
      {"time": "2025-02-06T23:20Z", "series": "G3026", "dewpoint": 21.6},
      {"time": "2025-02-06T23:30Z", "series": "G3026", "dewpoint": 21.4},
      {"time": "2025-02-06T23:58Z", "series": "G3026", "dewpoint": 21.3}
    ]
  },
  "resolve": {"axis": {"x": "independent", "y": "independent"}},
  "layer": [
    {
      "data": {"name": "sun"},
      "mark": {"type": "rule", "color": "black", "strokeWidth": 1},
      "encoding": {
        "x": {"field": "time", "type": "temporal", "axis": {"orient": "top", "labels": false, "title": null, "tickSize": -5, "values": [
          {"year": 2025, "month": 2, "date": 4, "hours": 0, "utc": true},
          {"year": 2025, "month": 2, "date": 4, "hours": 6, "utc": true},
          {"year": 2025, "month": 2, "date": 4, "hours": 12, "utc": true},
          {"year": 2025, "month": 2, "date": 4, "hours": 18, "utc": true},
          {"year": 2025, "month": 2, "date": 5, "hours": 0, "utc": true},
          {"year": 2025, "month": 2, "date": 5, "hours": 6, "utc": true},
          {"year": 2025, "month": 2, "date": 5, "hours": 12, "utc": true},
          {"year": 2025, "month": 2, "date": 5, "hours": 18, "utc": true},
          {"year": 2025, "month": 2, "date": 6, "hours": 0, "utc": true},
          {"year": 2025, "month": 2, "date": 6, "hours": 6, "utc": true},
          {"year": 2025, "month": 2, "date": 6, "hours": 12, "utc": true},
          {"year": 2025, "month": 2, "date": 6, "hours": 18, "utc": true},
          {"year": 2025, "month": 2, "date": 7, "hours": 0, "utc": true}]}},
        "y": {"datum": 20.6, "axis": {"orient": "right", "labels": false, "title": null, "tickSize": -5, "values": [-5, 0, 5, 10, 15, 20, 25]}},
        "y2": {"datum": -5}
      }
    },
    {
      "data": {"name": "sun"},
      "mark": {"type": "text", "angle": 270, "align": "left", "baseline": "middle", "font": "DejaVu Sans Mono", "fontSize": 10, "color": "black"},
      "encoding": {
        "x": {"field": "time", "type": "temporal", "axis": null},
        "y": {"datum": 20.95, "axis": null},
        "text": {"field": "event"}
      }
    },
    {
      "data": {"name": "obs"},
      "mark": {"type": "line", "strokeWidth": 1, "invalid": "break-paths-show-domains"},
      "encoding": {
        "x": {"field": "time", "type": "temporal",
          "scale": {"type": "utc", "domain": [{"year": 2025, "month": 2, "date": 4, "hours": 0, "utc": true}, {"year": 2025, "month": 2, "date": 7, "hours": 0, "utc": true}], "nice": false},
          "axis": {"orient": "bottom", "title": null, "tickSize": -5, "labelPadding": 12, "labelBaseline": "top", "labelLineHeight": 15, "labelFlush": false, "labelOverlap": false,
            "labelExpr": "[utcFormat(datum.value, '%m/%d'), utcFormat(datum.value, '%H:%M')]",
            "values": [
              {"year": 2025, "month": 2, "date": 4, "hours": 0, "utc": true},
              {"year": 2025, "month": 2, "date": 4, "hours": 6, "utc": true},
              {"year": 2025, "month": 2, "date": 4, "hours": 12, "utc": true},
              {"year": 2025, "month": 2, "date": 4, "hours": 18, "utc": true},
              {"year": 2025, "month": 2, "date": 5, "hours": 0, "utc": true},
              {"year": 2025, "month": 2, "date": 5, "hours": 6, "utc": true},
              {"year": 2025, "month": 2, "date": 5, "hours": 12, "utc": true},
              {"year": 2025, "month": 2, "date": 5, "hours": 18, "utc": true},
              {"year": 2025, "month": 2, "date": 6, "hours": 0, "utc": true},
              {"year": 2025, "month": 2, "date": 6, "hours": 6, "utc": true},
              {"year": 2025, "month": 2, "date": 6, "hours": 12, "utc": true},
              {"year": 2025, "month": 2, "date": 6, "hours": 18, "utc": true},
              {"year": 2025, "month": 2, "date": 7, "hours": 0, "utc": true}]}},
        "y": {"field": "dewpoint", "type": "quantitative",
          "scale": {"domain": [-5, 25], "nice": false, "zero": false},
          "axis": {"orient": "left", "title": "degrees F", "values": [-5, 0, 5, 10, 15, 20, 25], "tickSize": -5, "labelPadding": 13, "titlePadding": 8}},
        "color": {"field": "series", "type": "nominal",
          "scale": {"domain": ["G3026 Analysis", "G3026"], "range": ["#ff0000", "#0080ff"]},
          "legend": {"title": null, "orient": "none", "legendX": 542, "legendY": 2, "symbolType": "M-2,0H2", "symbolSize": 225, "symbolStrokeWidth": 1, "labelFont": "DejaVu Sans Mono", "labelFontSize": 10, "labelColor": "black", "labelAlign": "right", "labelOffset": -29, "rowPadding": 0, "padding": 0}}
      }
    }
  ]
}
